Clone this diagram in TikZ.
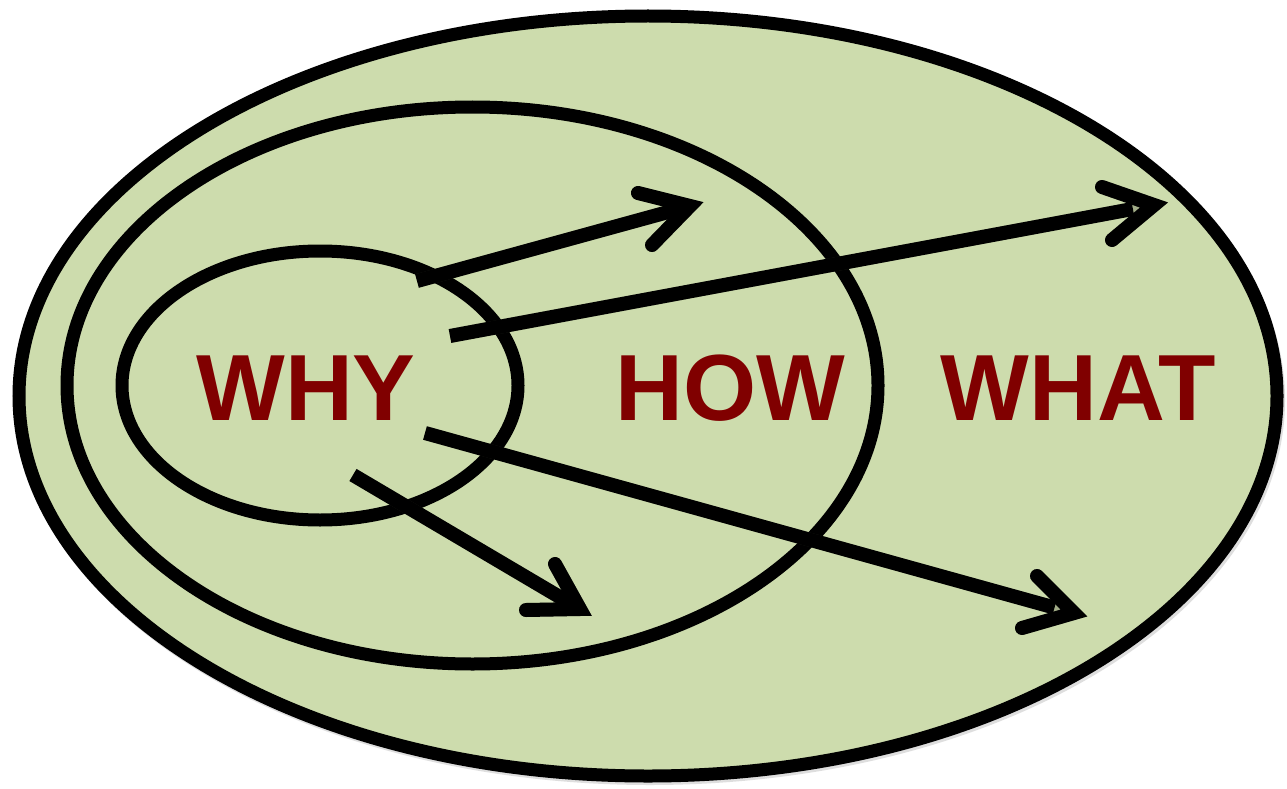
\documentclass[tikz,border=0pt]{standalone}
\usepackage{fontspec}
\setmainfont{Liberation Sans}
\usetikzlibrary{shapes.geometric,arrows.meta,calc}
\definecolor{bggreen}{RGB}{205,220,173}
\definecolor{wordred}{RGB}{128,0,0}
\tikzset{
  ring/.style={ellipse, draw=black, line width=13pt, inner sep=0pt, outer sep=0pt},
  word/.style={text=wordred, font=\fontsize{94}{94}\selectfont\bfseries, inner sep=0pt, anchor=base},
  shaft/.style={line width=14pt, line cap=butt},
  head/.style={line width=14pt, line cap=round, line join=miter},
  shade/.style={draw=black!60!bggreen, opacity=0.35, shift={(2pt,-3pt)}}
}
\begin{document}
\begin{tikzpicture}[x=1pt,y=-1pt]
\useasboundingbox (0,0) rectangle (1287,789);
\fill[white] (0,0) rectangle (1287,789);
% ellipses
\fill[black!25, opacity=0.5] (650,400) ellipse [x radius=635, y radius=385];
\node[ring, fill=bggreen, minimum width=1258pt, minimum height=760pt] (what) at (648,396) {};
\node[ring, minimum width=811pt, minimum height=557pt] (how) at (472.5,385.5) {};
\node[ring, minimum width=396pt, minimum height=269pt] (why) at (320,385.5) {};
% words
\node[word] (twhy) at (306,420) {WHY};
\node[word] (thow) at (730,420) {HOW};
\node[word] (twhat) at (1078,420) {WHAT};
% arrow coordinates
\coordinate (s1) at (417,281);
\coordinate (t1) at (690,206);
\coordinate (a1) at (638,193);
\coordinate (b1) at (652,245);
\coordinate (s2) at (450,336);
\coordinate (t2) at (1154,205);
\coordinate (a2) at (1102,187);
\coordinate (b2) at (1112,240);
\coordinate (s3) at (425,433);
\coordinate (t3) at (1074,613);
\coordinate (a3) at (1037,576);
\coordinate (b3) at (1022,628);
\coordinate (s4) at (353,475);
\coordinate (t4) at (580,609);
\coordinate (a4) at (555,564);
\coordinate (b4) at (526,610);
% shadows
\foreach \i in {1,2,3,4}{
  \draw[shaft, shade] (s\i) -- (t\i);
  \draw[head, shade] (a\i) -- (t\i) -- (b\i);
}
% arrows
\foreach \i in {1,2,3,4}{
  \draw[shaft] (s\i) -- ($(s\i)!0.97!(t\i)$);
  \draw[head] (a\i) -- (t\i) -- (b\i);
}
\end{tikzpicture}
\end{document}
